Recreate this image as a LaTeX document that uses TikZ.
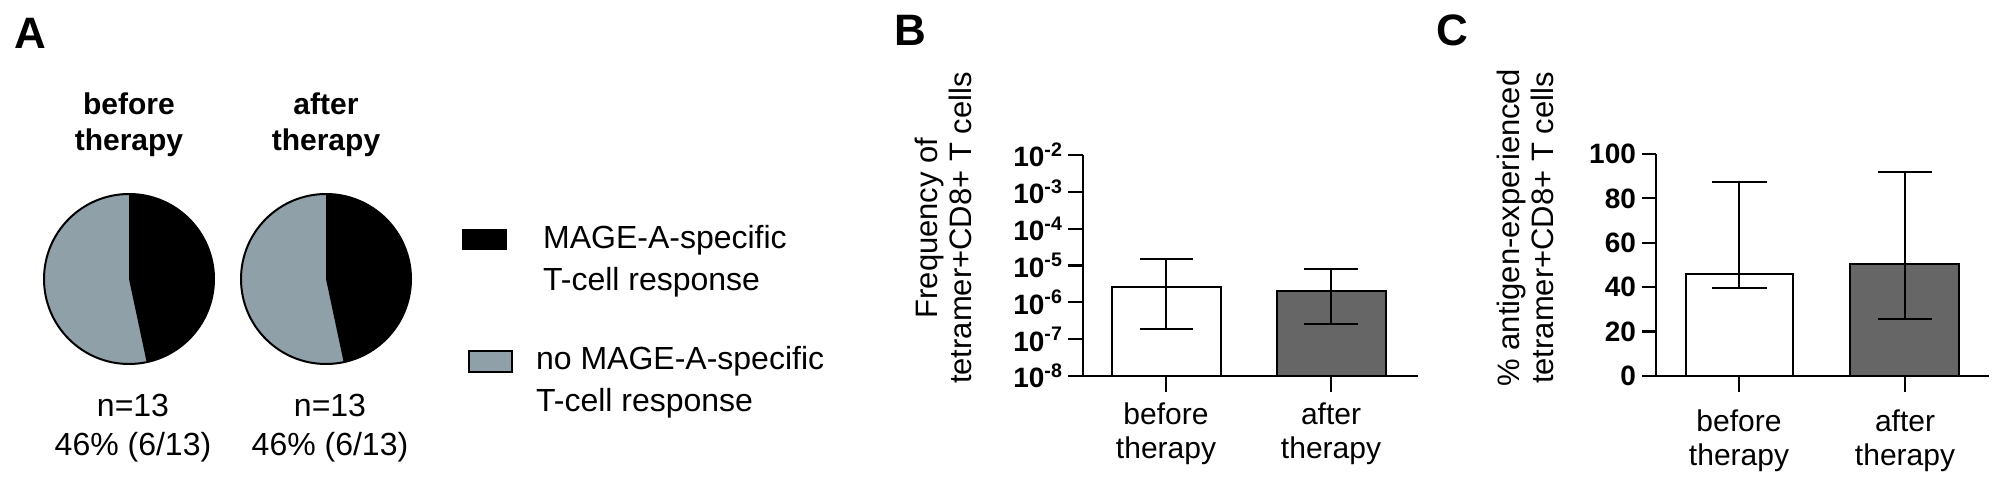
\documentclass[tikz,border=0pt]{standalone}
\usepackage{fontspec}
\setmainfont{Liberation Sans}
\definecolor{pgray}{RGB}{143,160,168}
\definecolor{dgray}{RGB}{102,102,102}
\begin{document}
\begin{tikzpicture}[x=0.5pt,y=-0.5pt,line width=1.1pt,
  lab/.style={font=\fontsize{15}{17}\selectfont,align=center},
  tick/.style={font=\bfseries\fontsize{14}{16}\selectfont,anchor=east,inner sep=1pt},
  ttl/.style={font=\fontsize{15.5}{17}\selectfont,rotate=90},
  letter/.style={font=\bfseries\fontsize{22}{24}\selectfont}]
\useasboundingbox (0,0) rectangle (2000,491);
% letters
\node[letter] (lA) at (30,33) {A};
\node[letter] (lB) at (910,30) {B};
\node[letter] (lC) at (1452,30) {C};
% pies
\foreach \cx/\nm/\tl in {129/p1/before, 326/p2/after}{
  \node[lab,font=\bfseries\fontsize{15}{18}\selectfont] (\nm h) at (\cx,125) {\tl\\therapy};
  \fill[pgray] (\cx,279) circle[radius=42.5pt];
  \fill[black] (\cx,279) -- ++(0,-85) arc[start angle=90,end angle=-78,radius=42.5pt] -- cycle;
  \draw[line width=1pt] (\cx,279) circle[radius=42.5pt];
  \node[lab,font=\fontsize{16}{18}\selectfont] (\nm n) at (\cx+4,405) {n=13};
  \node[lab,font=\fontsize{16}{18}\selectfont] (\nm p) at (\cx+4,447) {46\% (6/13)};
}
% legend
\fill[black] (462,229) rectangle (507,250);
\node[lab,anchor=west,align=left,font=\fontsize{16}{21}\selectfont,inner sep=0pt] (leg1) at (542,261) {MAGE-A-specific\\T-cell response};
\draw[line width=0.8pt,fill=pgray] (469,351) rectangle (512,372);
\node[lab,anchor=west,align=left,font=\fontsize{16}{21}\selectfont,inner sep=0pt] (leg2) at (535,382) {no MAGE-A-specific\\T-cell response};
% panel B
\draw (1083,155) -- (1083,376);
\draw (1068,376) -- (1418,376);
\foreach \e [count=\i from 0] in {8,7,6,5,4,3,2}{
  \pgfmathsetmacro{\yy}{376-\i*36.83}
  \draw (1068,\yy) -- (1083,\yy);
  \node[tick] at (1066,\yy) {10\textsuperscript{-\e}};
}
\draw[fill=white] (1112,376) rectangle (1221,287);
\draw[fill=dgray] (1277,376) rectangle (1386,291);
\draw (1166,259) -- (1166,329) (1140,259) -- (1193,259) (1140,329) -- (1193,329);
\draw (1331,269) -- (1331,324) (1304,269) -- (1358,269) (1304,324) -- (1358,324);
\draw (1166,376) -- (1166,392) (1331,376) -- (1331,392);
\node[lab] (bb) at (1166,434) {before\\therapy};
\node[lab] (ba) at (1331,434) {after\\therapy};
\node[ttl,align=center] (bt) at (943,228) {Frequency of\\tetramer+CD8+ T cells};
% panel C
\draw (1656,154) -- (1656,376);
\draw (1642,376) -- (1989,376);
\foreach \v [count=\i from 0] in {0,20,40,60,80,100}{
  \pgfmathsetmacro{\yy}{376-\i*44.4}
  \draw (1642,\yy) -- (1656,\yy);
  \node[tick] at (1639,\yy) {\v};
}
\draw[fill=white] (1686,376) rectangle (1793,274);
\draw[fill=dgray] (1850,376) rectangle (1959,264);
\draw (1739,182) -- (1739,288) (1712,182) -- (1767,182) (1712,288) -- (1767,288);
\draw (1905,172) -- (1905,319) (1878,172) -- (1932,172) (1878,319) -- (1932,319);
\draw (1739,376) -- (1739,392) (1905,376) -- (1905,392);
\node[lab] (cb) at (1739,441) {before\\therapy};
\node[lab] (ca) at (1905,441) {after\\therapy};
\node[ttl,align=center] (ct) at (1525,228) {\% antigen-experienced\\tetramer+CD8+ T cells};
\end{tikzpicture}
\end{document}
